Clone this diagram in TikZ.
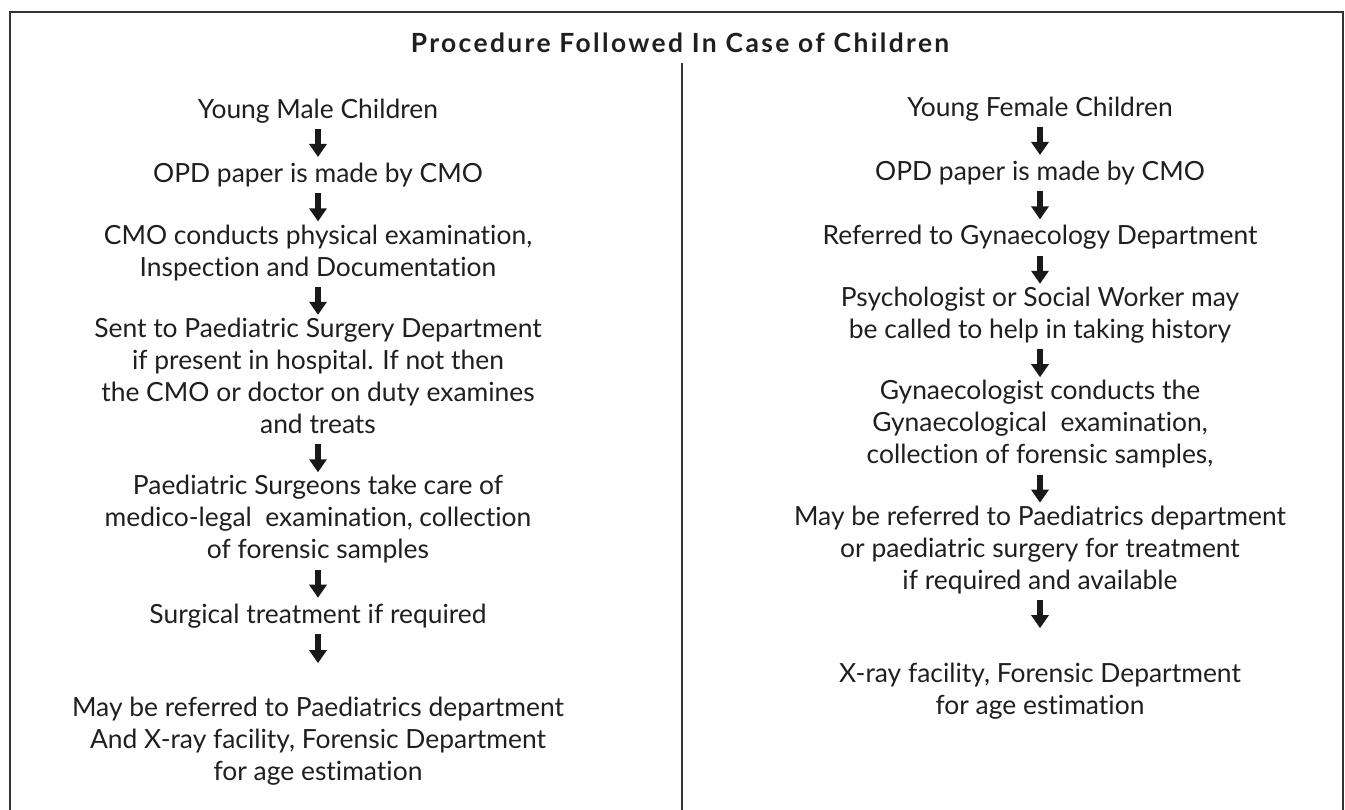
\documentclass[tikz,border=0pt]{standalone}
\usepackage{fontspec}
\setmainfont{Lato}[Ligatures={NoCommon}]
\usetikzlibrary{arrows.meta,positioning}

\begin{document}
\begin{tikzpicture}[
  x=1pt, y=1pt,
  node distance=32pt,
  txt/.style={align=center, inner sep=0pt, text=black!88,
              font=\fontsize{26.4}{32}\selectfont,
              execute at begin node=\strut, execute at end node=\strut},
  head/.style={inner sep=0pt, text=black!88,
               font=\fontsize{26.4}{32}\selectfont\bfseries\addfontfeatures{LetterSpace=9}},
  arr/.style={-{Triangle[width=17pt,length=13pt]}, line width=5.5pt, black!90,
              shorten <=1pt, shorten >=3pt},
  rule/.style={line width=1.6pt, black!80}]
\useasboundingbox (0,0) rectangle (1345,-810);
% frame and divider
\draw[rule] (10,-810) |- (1343,-12) -- (1343,-810);
\node[head] (title) at (680,-43) {Procedure Followed In Case of Children};
\draw[rule] (682,-63) -- (682,-810);

% boys
\node[txt, anchor=north] (m1) at (318,-95.6) {Young Male Children};
\node[txt, below=of m1] (m2) {OPD paper is made by CMO};
\node[txt, below=of m2] (m3) {CMO conducts physical examination,\\Inspection and Documentation};
\node[txt, below=of m3] (m4) {Sent to Paediatric Surgery Department\\if present in hospital. If not then\\the CMO or doctor on duty examines\\and treats};
\node[txt, below=of m4] (m5) {Paediatric Surgeons take care of\\medico-legal\ \ examination, collection\\of forensic samples};
\node[txt, below=of m5] (m6) {Surgical treatment if required};
\node[txt, below=64pt of m6] (m7) {May be referred to Paediatrics department\\And X-ray facility, Forensic Department\\for age estimation};

% girls
\node[txt, anchor=north] (f1) at (1040,-93.6) {Young Female Children};
\node[txt, below=of f1] (f2) {OPD paper is made by CMO};
\node[txt, below=of f2] (f3) {Referred to Gynaecology Department};
\node[txt, below=of f3] (f4) {Psychologist or Social Worker may\\be called to help in taking history};
\node[txt, below=of f4] (f5) {Gynaecologist conducts the\\Gynaecological\ \ examination,\\collection of forensic samples,};
\node[txt, below=of f5] (f6) {May be referred to Paediatrics department\\or paediatric surgery for treatment\\if required and available};
\node[txt, below=64pt of f6] (f7) {X-ray facility, Forensic Department\\for age estimation};

\draw[arr] (m1) -- (m2);
\draw[arr] (m2) -- (m3);
\draw[arr] (m3) -- (m4);
\draw[arr] (m4) -- (m5);
\draw[arr] (m5) -- (m6);
\draw[arr, shorten >=34pt] (m6) -- (m7);

\draw[arr] (f1) -- (f2);
\draw[arr] (f2) -- (f3);
\draw[arr] (f3) -- (f4);
\draw[arr] (f4) -- (f5);
\draw[arr] (f5) -- (f6);
\draw[arr, shorten >=35pt] (f6) -- (f7);
\end{tikzpicture}
\end{document}
